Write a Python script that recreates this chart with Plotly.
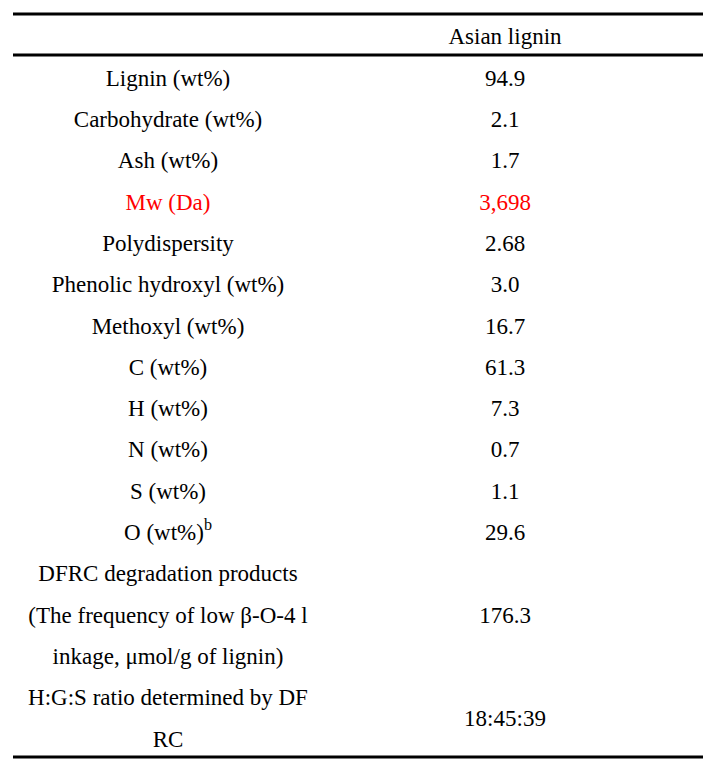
import plotly.graph_objects as go

# table content
header = "Asian lignin"
labels = [
    ["Lignin (wt%)"],
    ["Carbohydrate (wt%)"],
    ["Ash (wt%)"],
    ["Mw (Da)"],
    ["Polydispersity"],
    ["Phenolic hydroxyl (wt%)"],
    ["Methoxyl (wt%)"],
    ["C (wt%)"],
    ["H (wt%)"],
    ["N (wt%)"],
    ["S (wt%)"],
    ["O (wt%)<sup>b</sup>"],
    ["DFRC degradation products", "(The frequency of low β-O-4 l", "inkage, μmol/g of lignin)"],
    ["H:G:S ratio determined by DF", "RC"],
]
values = ["94.9", "2.1", "1.7", "3,698", "2.68", "3.0", "16.7", "61.3", "7.3",
          "0.7", "1.1", "29.6", "176.3", "18:45:39"]
highlight = [False, False, False, True] + [False] * 10

# page body has an 8px margin, so the figure is sized to fit the window
W, H, OFF = 722, 774, 8
FONT = "Liberation Serif"
SIZE = 23
first_line, pitch = 80, 41.3
x_left, x_right = 168, 505

lx, ly, lc = [], [], []
vx, vy, vc = [], [], []
line = 0
for lab, val, hl in zip(labels, values, highlight):
    col = "#ff0000" if hl else "black"
    n = len(lab)
    for k, t in enumerate(lab):
        lx.append(x_left)
        ly.append(first_line + pitch * (line + k))
        lc.append(col)
    vx.append(x_right)
    vy.append(first_line + pitch * (line + (n - 1) / 2))
    vc.append(col)
    line += n

fig = go.Figure()
fig.add_trace(go.Scatter(x=lx, y=ly, text=[t for lab in labels for t in lab], mode="text",
                         textfont=dict(family=FONT, size=SIZE, color=lc), hoverinfo="skip"))
fig.add_trace(go.Scatter(x=vx, y=vy, text=values, mode="text",
                         textfont=dict(family=FONT, size=SIZE, color=vc), hoverinfo="skip"))
fig.add_trace(go.Scatter(x=[x_right], y=[38], text=[header], mode="text",
                         textfont=dict(family=FONT, size=SIZE, color="black"), hoverinfo="skip"))

for yy in [14, 55, 757]:
    fig.add_shape(type="line", x0=13, x1=703, y0=yy, y1=yy, xref="x", yref="y",
                  line=dict(color="black", width=3))

fig.update_layout(
    width=W - OFF, height=H - OFF, margin=dict(l=0, r=0, t=0, b=0),
    paper_bgcolor="white", plot_bgcolor="white", showlegend=False,
    xaxis=dict(range=[OFF, W], visible=False, fixedrange=True),
    yaxis=dict(range=[H, OFF], visible=False, fixedrange=True),
)
fig.write_html("out.html")
